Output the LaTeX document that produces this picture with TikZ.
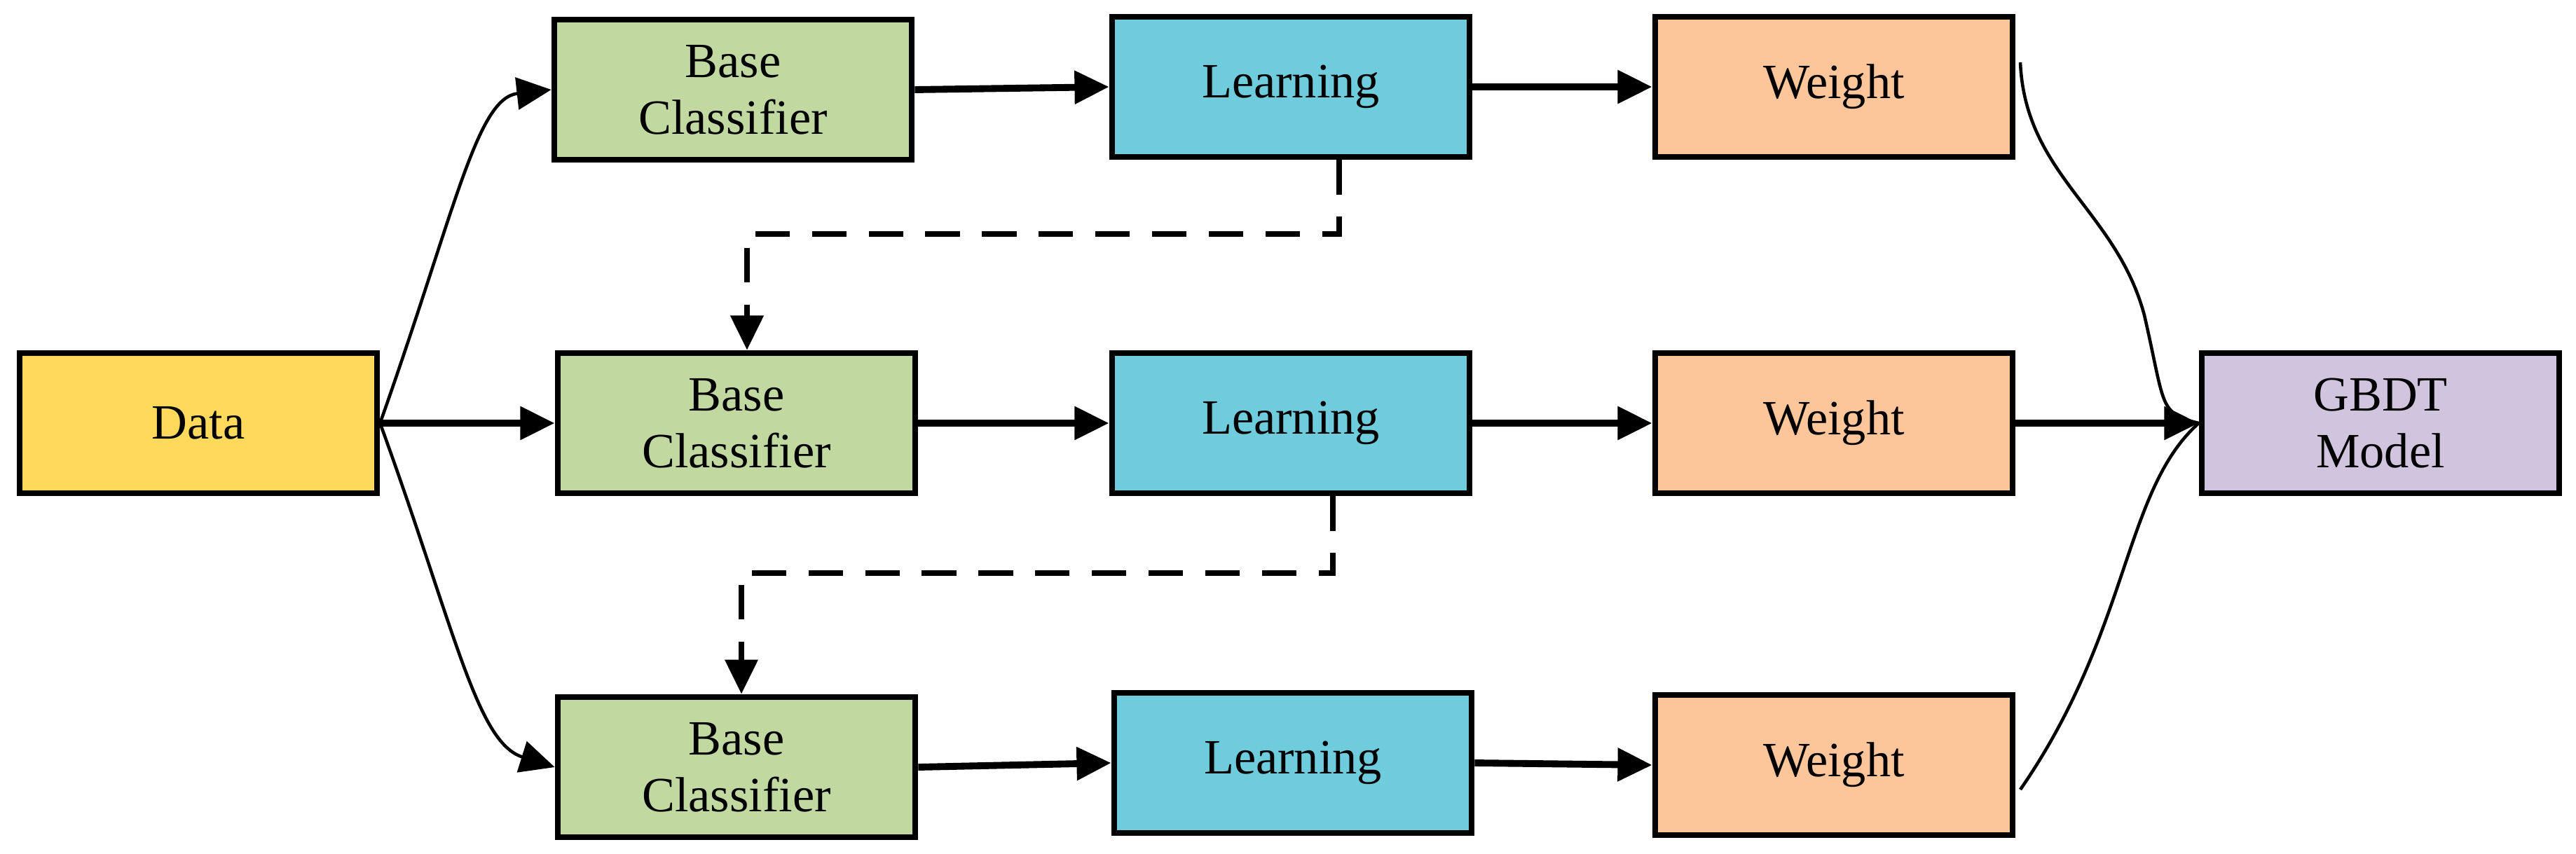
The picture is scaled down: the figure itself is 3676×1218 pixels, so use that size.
\documentclass[tikz,border=0pt]{standalone}
\usepackage{fontspec}
\setmainfont{Liberation Serif}
\usetikzlibrary{arrows.meta}
\definecolor{cdata}{HTML}{FFD95C}
\definecolor{cbase}{HTML}{C1D9A1}
\definecolor{clearn}{HTML}{6FCCDD}
\definecolor{cweight}{HTML}{FDC59A}
\definecolor{cgbdt}{HTML}{D1C4DE}
\begin{document}
\begin{tikzpicture}[x=0.01cm,y=-0.01cm,
  box/.style={draw=black,line width=2.4pt,minimum width=5.1cm,minimum height=2cm,inner sep=0pt,align=center,font=\fontsize{20}{23}\selectfont},
  arr/.style={line width=2.8pt,-{Triangle[length=14pt,width=13pt]}},
  carr/.style={line width=1.3pt,-{Triangle[length=14pt,width=13pt]}},
  curve/.style={line width=1.3pt},
  dasharr/.style={line width=2.4pt,dash pattern=on 14pt off 9pt,-{Triangle[length=14pt,width=13pt]}}]
\useasboundingbox (0,0) rectangle (3676,1218);
\node[box,fill=cdata] (data) at (283,604) {Data};
\node[box,fill=cbase] (b1) at (1046,128) {Base\\Classifier};
\node[box,fill=cbase] (b2) at (1051,604) {Base\\Classifier};
\node[box,fill=cbase] (b3) at (1051,1095) {Base\\Classifier};
\node[box,fill=clearn] (l1) at (1842,124) {Learning};
\node[box,fill=clearn] (l2) at (1842,604) {Learning};
\node[box,fill=clearn] (l3) at (1845,1089) {Learning};
\node[box,fill=cweight] (w1) at (2617,124) {Weight};
\node[box,fill=cweight] (w2) at (2617,604) {Weight};
\node[box,fill=cweight] (w3) at (2617,1092) {Weight};
\node[box,fill=cgbdt] (g) at (3397,604) {GBDT\\Model};
\coordinate (d1a) at (1911,334);
\coordinate (d1b) at (1066,334);
\coordinate (d2a) at (1902,818);
\coordinate (d2b) at (1058,818);
\draw[carr] (data.east) .. controls (650,300) and (680,140) .. (b1.west);
\draw[arr] (data.east) -- (b2.west);
\draw[carr] (data.east) .. controls (650,900) and (680,1060) .. (b3.west);
\draw[arr] (b1.east) -- (l1.west);
\draw[arr] (b2.east) -- (l2.west);
\draw[arr] (b3.east) -- (l3.west);
\draw[arr] (l1.east) -- (w1.west);
\draw[arr] (l2.east) -- (w2.west);
\draw[arr] (l3.east) -- (w3.west);
\draw[arr] (w2.east) -- (g.west);
\draw[curve] (2883,89) .. controls (2890,250) and (3020,300) .. (3060,450) .. controls (3090,580) and (3080,590) .. (g.west);
\draw[curve] (2883,1127) .. controls (3040,900) and (3030,700) .. (g.west);
\draw[dasharr] (l1.south -| d1a) -- (d1a) -- (d1b) -- (b2.north -| d1b);
\draw[dasharr] (l2.south -| d2a) -- (d2a) -- (d2b) -- (b3.north -| d2b);
\end{tikzpicture}
\end{document}
